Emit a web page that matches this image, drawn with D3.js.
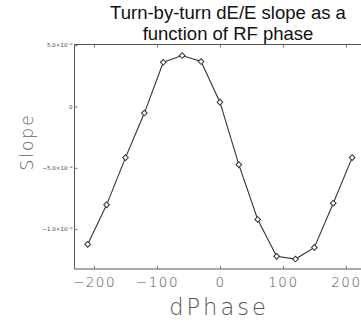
<!DOCTYPE html>
<html>
<head>
<meta charset="utf-8">
<script src="https://cdn.jsdelivr.net/npm/d3@7"></script>
<style>
  body { margin: 0; background: #fff; }
  svg { display: block; }
</style>
</head>
<body>
<div id="chart"></div>
<script>
// data
const phase = [-210, -180, -150, -120, -90, -60, -30, 0, 30, 60, 90, 120, 150, 180, 210];
const slope = [-1.124e-3, -8.02e-4, -4.17e-4, -5.4e-5, 3.60e-4, 4.15e-4, 3.66e-4, 3.5e-5,
               -4.74e-4, -9.21e-4, -1.222e-3, -1.244e-3, -1.149e-3, -7.89e-4, -4.17e-4];
const xTicks = [-200, -100, 0, 100, 200];
const yTicks = [5e-4, 0, -5e-4, -1e-3];
const yTickLabels = ["5.0\u00d710\u207b\u2074", "0", "\u22125.0\u00d710\u207b\u2074", "\u22121.0\u00d710\u207b\u00b3"];

const width = 361, height = 322;
const plotLeft = 74.5, plotRight = 366, plotTop = 44.5, plotBottom = 269;

const x = d3.scaleLinear().domain([-231, 232]).range([plotLeft, plotRight]);
const y = d3.scaleLinear().domain([-1.325e-3, 5.05e-4]).range([plotBottom, plotTop]);

const svg = d3.select("#chart").append("svg")
  .attr("width", width)
  .attr("height", height);

/* title */
const title = svg.append("text")
  .attr("text-anchor", "middle")
  .attr("font-family", "Liberation Sans, Arial, sans-serif")
  .attr("font-size", 18.5)
  .attr("fill", "#111");
title.append("tspan").attr("x", 228).attr("y", 18.5).text("Turn-by-turn dE/E slope as a");
title.append("tspan").attr("x", 228).attr("y", 39.5).text("function of RF phase");

/* frame */
const frame = svg.append("g").attr("stroke", "#555").attr("stroke-width", 1).attr("fill", "none");
frame.append("line").attr("x1", plotLeft).attr("x2", plotLeft).attr("y1", plotTop).attr("y2", plotBottom);
frame.append("line").attr("x1", plotLeft).attr("x2", plotRight).attr("y1", plotTop).attr("y2", plotTop);
frame.append("line").attr("x1", plotLeft).attr("x2", plotRight).attr("y1", plotBottom).attr("y2", plotBottom);

/* axes */
const xAxis = d3.axisBottom(x).tickValues(xTicks).tickSizeInner(-3).tickSizeOuter(0)
  .tickPadding(8).tickFormat(d => d < 0 ? "\u2212" + Math.abs(d) : d);
const gx = svg.append("g")
  .attr("transform", `translate(0, ${plotBottom})`)
  .call(xAxis);
gx.select(".domain").remove();
gx.selectAll(".tick line").attr("stroke", "#777");
gx.selectAll(".tick text")
  .attr("font-family", "DejaVu Sans, sans-serif")
  .attr("font-size", 13.5)
  .attr("font-weight", 200)
  .attr("letter-spacing", 1.5)
  .attr("fill", "#555");

const xTop = d3.axisTop(x).tickValues(xTicks).tickSizeInner(-3).tickSizeOuter(0).tickFormat("");
const gxt = svg.append("g").attr("transform", `translate(0, ${plotTop})`).call(xTop);
gxt.select(".domain").remove();
gxt.selectAll(".tick line").attr("stroke", "#777");

const yAxis = d3.axisLeft(y).tickValues(yTicks).tickSizeInner(-3).tickSizeOuter(0)
  .tickPadding(2).tickFormat((d, i) => yTickLabels[i]);
const gy = svg.append("g")
  .attr("transform", `translate(${plotLeft}, 0)`)
  .call(yAxis);
gy.select(".domain").remove();
gy.selectAll(".tick line").attr("stroke", "#777");
gy.selectAll(".tick text")
  .attr("font-family", "DejaVu Sans, sans-serif")
  .attr("font-size", 5.5)
  .attr("fill", "#444");

/* axis titles */
svg.append("text")
  .attr("x", 219).attr("y", 315)
  .attr("text-anchor", "middle")
  .attr("font-family", "DejaVu Sans, sans-serif")
  .attr("font-size", 22.5)
  .attr("font-weight", 200)
  .attr("letter-spacing", 3)
  .attr("fill", "#555")
  .text("dPhase");

svg.append("text")
  .attr("transform", "translate(33, 142) rotate(-90)")
  .attr("text-anchor", "middle")
  .attr("font-family", "DejaVu Sans, sans-serif")
  .attr("font-size", 17)
  .attr("font-weight", 200)
  .attr("letter-spacing", 2)
  .attr("fill", "#666")
  .text("Slope");

/* line + markers */
const pts = phase.map((p, i) => ({ p: p, s: slope[i] }));
const line = d3.line().x(d => x(d.p)).y(d => y(d.s));

svg.append("path")
  .attr("d", line(pts))
  .attr("fill", "none")
  .attr("stroke", "#333")
  .attr("stroke-width", 1.1);

const diamond = d3.symbol().type(d3.symbolSquare).size(16);
svg.append("g").selectAll("path")
  .data(pts).enter()
  .append("path")
  .attr("d", diamond)
  .attr("transform", d => `translate(${x(d.p)}, ${y(d.s)}) rotate(45)`)
  .attr("fill", "#fff")
  .attr("stroke", "#333")
  .attr("stroke-width", 1);
</script>
</body>
</html>
